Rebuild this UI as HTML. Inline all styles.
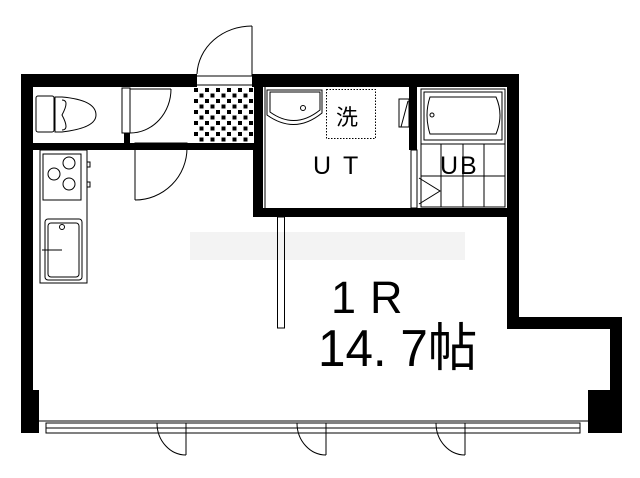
<!DOCTYPE html>
<html><head><meta charset="utf-8"><style>
html,body{margin:0;padding:0;background:#fff;}
svg{display:block;}
text{font-family:"Liberation Sans","Noto Sans CJK JP",sans-serif;fill:#000;}
</style></head><body>
<svg width="640" height="478" viewBox="0 0 640 478" xmlns="http://www.w3.org/2000/svg">
<defs>
<pattern id="chk" x="193" y="87" width="11" height="11" patternUnits="userSpaceOnUse">
<rect width="11" height="11" fill="#fff"/>
<rect x="1" y="1" width="4" height="4" fill="#000"/>
<rect x="6.5" y="6.5" width="4" height="4" fill="#000"/>
</pattern>
</defs>
<rect x="190" y="232" width="275" height="28" fill="#f3f3f3"/>
<g fill="#000">
<rect x="21" y="74" width="176" height="13"/>
<rect x="252" y="74" width="267" height="13"/>
<rect x="21" y="74" width="12" height="359"/>
<rect x="21" y="390" width="18" height="43"/>
<rect x="507" y="74" width="12" height="255"/>
<rect x="507" y="317" width="115" height="12"/>
<rect x="610" y="317" width="12" height="116"/>
<rect x="588" y="390" width="34" height="43"/>
<rect x="33" y="143" width="225" height="7"/>
<rect x="253" y="87" width="10" height="130"/>
<rect x="253" y="208" width="264" height="9"/>
<rect x="409" y="87" width="8" height="63"/>
<rect x="124" y="133" width="6" height="10"/>
</g>
<g fill="none" stroke="#000" stroke-width="1">
<line x1="197" y1="76" x2="252" y2="76"/>
<line x1="197" y1="85" x2="252" y2="85"/>
<line x1="252" y1="26" x2="252" y2="76"/>
<path d="M252 26 A55 50 0 0 0 197 74"/>
<rect x="193" y="87" width="61" height="56" fill="url(#chk)" stroke="none"/>
<rect x="122" y="88" width="8" height="45"/>
<line x1="130" y1="89" x2="171" y2="89"/>
<path d="M171 89 A41 44 0 0 1 130 133"/>
<rect x="135" y="143" width="52" height="5"/>
<line x1="135" y1="148" x2="135" y2="200"/>
<path d="M187 148 A52 52 0 0 1 135 200"/>
<rect x="36" y="96" width="18" height="36" rx="2"/>
<path d="M55 97 L62 97 Q96 100 96 115 Q96 128 62 132 L55 132 Z"/>
<path d="M62 100 Q70 100 62 115 Q70 130 62 130"/>
<rect x="40" y="150" width="47" height="133"/>
<rect x="43" y="154" width="38" height="46"/>
<circle cx="54" cy="174" r="6"/><circle cx="69" cy="163" r="6"/><circle cx="69" cy="184" r="6"/>
<rect x="87" y="162" width="3" height="5"/><rect x="87" y="182" width="3" height="5"/>
<rect x="45" y="219" width="37" height="61" rx="3"/>
<rect x="48" y="223" width="31" height="54" rx="3"/>
<circle cx="62" cy="227" r="2.5"/>
<line x1="42" y1="250" x2="62" y2="250"/>
<line x1="265" y1="87" x2="265" y2="208"/>
<path d="M267 90 L322 90 L322 113 Q295 135 267 115 Z"/>
<path d="M270 92 L320 92 L320 110 Q295 130 270 112 Z"/>
<circle cx="303" cy="108" r="2.5"/>
<rect x="326.5" y="89.5" width="49" height="49" stroke-dasharray="1.5 1.5"/>
<rect x="399" y="99" width="10" height="28"/>
<line x1="401" y1="127" x2="408" y2="101"/>
<rect x="411" y="150" width="6" height="58"/>
<rect x="421" y="89" width="84" height="118"/>
<rect x="424" y="92" width="78" height="48"/>
<path d="M430 97 L496 97 Q504 115 496 134 L430 134 Q424 115 430 97 Z"/>
<circle cx="432" cy="115" r="2"/>
<line x1="421" y1="144" x2="505" y2="144"/>
<line x1="421" y1="176" x2="505" y2="176"/>
<line x1="441" y1="144" x2="441" y2="207"/>
<line x1="463" y1="144" x2="463" y2="207"/>
<line x1="484" y1="144" x2="484" y2="207"/>
<path d="M419 178 L440 191 L419 204"/>
<rect x="277.5" y="217" width="7" height="111"/>
<line x1="39" y1="421" x2="588" y2="421"/>
<line x1="46" y1="428" x2="580" y2="428"/>
<line x1="186" y1="423" x2="186" y2="455"/><path d="M157 423 A29 32 0 0 0 186 455"/>
<line x1="326" y1="423" x2="326" y2="455"/><path d="M297 423 A29 32 0 0 0 326 455"/>
<line x1="465" y1="423" x2="465" y2="455"/><path d="M436 423 A29 32 0 0 0 465 455"/>
</g>
<rect x="46" y="423" width="534" height="10" fill="none" stroke="#000" stroke-width="1"/>
<text x="336" y="125" font-size="22">洗</text>
<text x="313" y="174" font-size="25" letter-spacing="12">UT</text>
<text x="440" y="174" font-size="25" letter-spacing="2">UB</text>
<text x="331" y="313" font-size="45" letter-spacing="14">1R</text>
<text transform="translate(318,366) scale(0.95,1)" font-size="52">14. 7帖</text>
</svg>
</body></html>
